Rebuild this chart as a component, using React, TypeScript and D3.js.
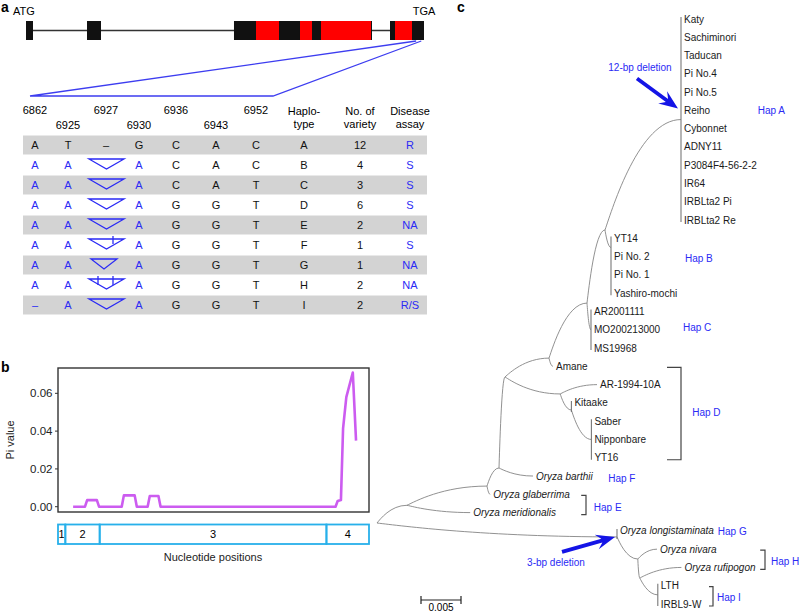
import React from "react";
import * as d3 from "d3";

const FONT = "'Liberation Sans', Arial, Helvetica, sans-serif";
const BLUE = "#2a2af5";
const BLUE_ARROW = "#1414e6";

// ---------- Panel a data ----------
const geneLength = 7000;
const exons: [number, number][] = [[0, 123], [1073, 1319], [3658, 6085], [6402, 7000]];
const domainsRed: [number, number][] = [[4045, 4450], [4819, 5030], [5188, 6068], [6490, 6789]];
const zoomRegion: [number, number] = [6862, 6952];

const topPositions = ["6862", "6927", "6936", "6952"];
const bottomPositions = ["6925", "6930", "6943"];
const haplotypes = ["A", "B", "C", "D", "E", "F", "G", "H", "I"];
const varietyCounts = [12, 4, 3, 6, 2, 1, 1, 2, 2];
const diseaseAssay = ["R", "S", "S", "S", "NA", "S", "NA", "NA", "R/S"];
const snp6862 = ["A", "A", "A", "A", "A", "A", "A", "A", "–"];
const snp6925 = ["T", "A", "A", "A", "A", "A", "A", "A", "A"];
const del6927 = ["none", "full", "full", "full", "full", "one", "short", "two", "full"];
const snp6930 = ["G", "A", "A", "A", "A", "A", "A", "A", "A"];
const snp6936 = ["C", "C", "C", "G", "G", "G", "G", "G", "G"];
const snp6943 = ["A", "A", "A", "G", "G", "G", "G", "G", "G"];
const snp6952 = ["C", "C", "T", "T", "T", "T", "T", "T", "T"];

// ---------- Panel b data ----------
const piPositions = [350, 625, 675, 900, 950, 1475, 1525, 1775, 1825, 2075, 2125, 2325, 2375, 6425, 6475, 6550, 6600, 6675, 6825, 6900];
const piValues = [0, 0, 0.0035, 0.0035, 0, 0, 0.006, 0.006, 0, 0, 0.0057, 0.0057, 0, 0, 0.003, 0.0035, 0.0415, 0.058, 0.071, 0.035];
const piTicks = [0, 0.02, 0.04, 0.06];
const exonSegments: [number, number][] = [[0, 170], [170, 965], [965, 6215], [6215, 7200]];
const exonSegmentLabels = ["1", "2", "3", "4"];

// ---------- Panel c data ----------
const hapALeaves = ["Katy", "Sachiminori", "Taducan", "Pi No.4", "Pi No.5", "Reiho", "Cybonnet", "ADNY11", "P3084F4-56-2-2", "IR64", "IRBLta2 Pi", "IRBLta2 Re"];
const hapBLeaves = ["YT14", "Pi No. 2", "Pi No. 1", "Yashiro-mochi"];
const hapCLeaves = ["AR2001111", "MO200213000", "MS19968"];
const hapDSubLeaves = ["Saber", "Nipponbare", "YT16"];
const hapILeaves = ["LTH", "IRBL9-W"];

type TNode = { name?: string; len: number; row?: number; italic?: boolean; children?: TNode[] };
const L = (name: string, len = 0, italic = false): TNode => ({ name, len, italic });
const N = (row: number, len: number, children: TNode[]): TNode => ({ row, len, children });
const leaf0 = (n: string) => L(n, 0);

const tree: TNode = N(27.57, 0, [
  N(26.6, 0.00375, [
    N(25.55, 0.01, [
      N(24.56, 0.0015, [
        N(19.58, 0.00075, [
          N(18.55, 0.0055, [
            N(15.54, 0.00475, [
              N(11.54, 0.00225, [
                N(5.5, 0.0095, hapALeaves.map(leaf0)),
                N(12.5, 0.00075, hapBLeaves.map(leaf0)),
              ]),
              N(17, 0.0005, hapCLeaves.map(leaf0)),
            ]),
            L("Amane", 0.0005),
          ]),
          N(20.51, 0.0069, [
            L("AR-1994-10A", 0.0046),
            N(21.39, 0.0014, [L("Kitaake", 0), N(23, 0.0025, hapDSubLeaves.map(leaf0))]),
          ]),
        ]),
        L("Oryza barthii", 0.00425, true),
      ]),
      L("Oryza glaberrima", 0.0004, true),
    ]),
    L("Oryza meridionalis", 0.0079, true),
  ]),
  N(28.33, 0.03, [
    L("Oryza longistaminata", 0, true),
    N(29.54, 0.0026, [
      L("Oryza nivara", 0.0024, true),
      N(30.58, 0.00025, [L("Oryza rufipogon", 0.0052, true), N(31.5, 0.00225, hapILeaves.map(leaf0))]),
    ]),
  ]),
]);

const hapLabels = [
  { label: "Hap A", dist: 0.0476, row: 5 },
  { label: "Hap B", dist: 0.0385, row: 13.1 },
  { label: "Hap C", dist: 0.03825, row: 16.9 },
  { label: "Hap D", dist: 0.0394, row: 21.55 },
  { label: "Hap F", dist: 0.0289, row: 25.16 },
  { label: "Hap E", dist: 0.0271, row: 26.7 },
  { label: "Hap G", dist: 0.0426, row: 28.06 },
  { label: "Hap H", dist: 0.04925, row: 29.7 },
  { label: "Hap I", dist: 0.0425, row: 31.67 },
];
const hapBrackets = [
  { dist: 0.038, tick: 0.00175, from: 19, to: 24 },
  { dist: 0.026125, tick: 0.0006, from: 26, to: 27 },
  { dist: 0.0485, tick: 0.0006, from: 29, to: 30 },
  { dist: 0.042, tick: 0.0005, from: 31, to: 32 },
];

// ---------- helpers ----------
function arrowPath(x1: number, y1: number, x2: number, y2: number, hl = 19, hw = 7.5, sw = 1.9) {
  const dx = x2 - x1, dy = y2 - y1, len = Math.hypot(dx, dy);
  const ux = dx / len, uy = dy / len, nx = -uy, ny = ux;
  const bx = x2 - ux * hl, by = y2 - uy * hl;
  const kx = x2 - ux * hl * 0.72, ky = y2 - uy * hl * 0.72;
  const pts = [
    [x1 + nx * sw, y1 + ny * sw], [kx + nx * sw, ky + ny * sw], [bx + nx * hw, by + ny * hw], [x2, y2],
    [bx - nx * hw, by - ny * hw], [kx - nx * sw, ky - ny * sw], [x1 - nx * sw, y1 - ny * sw],
  ];
  return "M" + pts.map((p) => p[0].toFixed(2) + "," + p[1].toFixed(2)).join("L") + "Z";
}
function edgePath(px: number, py: number, cx: number, cy: number) {
  const dx = cx - px, dy = cy - py;
  return `M${px},${py}C${px + 0.1 * dx},${py + 0.2 * dy} ${px + 0.45 * dx},${cy} ${cx},${cy}`;
}

function PanelA() {
  const gx = d3.scaleLinear().domain([0, geneLength]).range([26, 424]);
  const colX = d3.scaleOrdinal<string, number>()
    .domain(["6862", "6925", "6927", "6930", "6936", "6943", "6952", "hap", "num", "assay"])
    .range([35, 68, 106, 139, 176, 216, 256, 304, 360, 410]);
  const rowY = d3.scalePoint<string>().domain(haplotypes).range([145, 305]);
  const fs = 11;
  const cell = (x: number, y: number, t: string, color: string, key: string) => (
    <text key={key} x={x} y={y} dy="0.36em" textAnchor="middle" fontSize={fs} fill={color}>{t}</text>
  );
  return (
    <g fontFamily={FONT}>
      <text x={1} y={12} fontSize={14} fontWeight="bold">a</text>
      <text x={gx(0) - 2} y={15} fontSize={11} textAnchor="middle">ATG</text>
      <text x={gx(geneLength)} y={15} fontSize={11} textAnchor="middle">TGA</text>
      <line x1={gx(0)} x2={gx(geneLength)} y1={30.5} y2={30.5} stroke="#333" strokeWidth={1.6} />
      {exons.map((e, i) => (
        <rect key={"ex" + i} x={gx(e[0])} y={21} width={gx(e[1]) - gx(e[0])} height={19} fill="#111" />
      ))}
      {domainsRed.map((e, i) => (
        <rect key={"rd" + i} x={gx(e[0])} y={21} width={gx(e[1]) - gx(e[0])} height={19} fill="#ff0000" />
      ))}
      <path d={`M${gx(zoomRegion[0])},41 L30,96 L273,96 L${gx(zoomRegion[1])},41`} fill="none" stroke="#3d3df0" strokeWidth={1.3} />
      {topPositions.map((p) => (
        <text key={p} x={colX(p)} y={114} fontSize={fs} textAnchor="middle">{p}</text>
      ))}
      {bottomPositions.map((p) => (
        <text key={p} x={colX(p)} y={129} fontSize={fs} textAnchor="middle">{p}</text>
      ))}
      {[["hap", "Haplo-", "type"], ["num", "No. of", "variety"], ["assay", "Disease", "assay"]].map((h) => (
        <g key={h[0]}>
          <text x={colX(h[0])} y={115} fontSize={fs} textAnchor="middle">{h[1]}</text>
          <text x={colX(h[0])} y={128} fontSize={fs} textAnchor="middle">{h[2]}</text>
        </g>
      ))}
      {haplotypes.map((h, i) => {
        const y = rowY(h)!;
        const blueIf = i > 0 ? BLUE : "#111";
        const dx = colX("6927");
        const d = del6927[i];
        let tri = null;
        if (d !== "none") {
          const w0 = d === "short" ? dx - 15 : dx - 17;
          const w1 = d === "short" ? dx + 11 : dx + 18;
          const tip = d === "short" ? dx - 2 : dx + 0.5;
          tri = (
            <g stroke={BLUE} strokeWidth={1.3} fill="none">
              <path d={`M${w0},${y - 6} L${w1},${y - 6} L${tip},${y + 4} Z`} strokeLinejoin="miter" />
              {d === "one" && <line x1={dx + 7} x2={dx + 7} y1={y - 9} y2={y - 1} />}
              {d === "two" && (
                <>
                  <line x1={dx - 8} x2={dx - 8} y1={y - 9} y2={y} />
                  <line x1={dx + 7} x2={dx + 7} y1={y - 9} y2={y} />
                </>
              )}
            </g>
          );
        }
        return (
          <g key={h}>
            {i % 2 === 0 && <rect x={23} y={y - 9.5} width={404} height={19} fill="#d3d3d3" />}
            {cell(colX("6862"), y, snp6862[i], blueIf, "a")}
            {cell(colX("6925"), y, snp6925[i], blueIf, "b")}
            {d === "none" ? cell(dx, y, "–", "#111", "c") : tri}
            {cell(colX("6930"), y, snp6930[i], blueIf, "d")}
            {cell(colX("6936"), y, snp6936[i], "#111", "e")}
            {cell(colX("6943"), y, snp6943[i], "#111", "f")}
            {cell(colX("6952"), y, snp6952[i], "#111", "g")}
            {cell(colX("hap"), y, h, "#111", "h")}
            {cell(colX("num"), y, String(varietyCounts[i]), "#111", "i")}
            {cell(colX("assay"), y, diseaseAssay[i], BLUE, "j")}
          </g>
        );
      })}
    </g>
  );
}

function PanelB() {
  const x = d3.scaleLinear().domain([0, 7200]).range([58, 369]);
  const y = d3.scaleLinear().domain([-0.0028, 0.0734]).range([512, 368]);
  const line = d3.line<number>().x((_, i) => x(piPositions[i])).y((v) => y(v));
  return (
    <g fontFamily={FONT}>
      <text x={1} y={372} fontSize={14} fontWeight="bold">b</text>
      <path d={line(piValues) || ""} fill="none" stroke="#cc5cf0" strokeWidth={2.6} strokeLinejoin="round" />
      <rect x={58} y={368} width={311} height={144} fill="none" stroke="#333" strokeWidth={1.4} />
      {piTicks.map((t) => (
        <g key={t}>
          <line x1={55} x2={58} y1={y(t)} y2={y(t)} stroke="#333" strokeWidth={1} />
          <text x={52.5} y={y(t)} dy="0.35em" textAnchor="end" fontSize={11.5} fill="#222">{d3.format(".2f")(t)}</text>
        </g>
      ))}
      <text transform={`translate(14,440) rotate(-90)`} textAnchor="middle" fontSize={11} fill="#222">Pi value</text>
      {exonSegments.map((s, i) => (
        <g key={i}>
          <rect x={x(s[0])} y={524.5} width={x(s[1]) - x(s[0])} height={19.5} fill="none" stroke="#27b0ea" strokeWidth={1.8} />
          <text x={(x(s[0]) + x(s[1])) / 2} y={534.5} dy="0.36em" textAnchor="middle" fontSize={11}>{exonSegmentLabels[i]}</text>
        </g>
      ))}
      <text x={213} y={561} textAnchor="middle" fontSize={11} fill="#222">Nucleotide positions</text>
    </g>
  );
}

function PanelC() {
  const xT = d3.scaleLinear().domain([0, 0.005]).range([377, 417]);
  const yT = d3.scaleLinear().domain([0, 32]).range([19, 604]);
  const root = d3.hierarchy<TNode>(tree, (d) => d.children);
  const dist = new Map<any, number>();
  root.each((n: any) => dist.set(n, (n.parent ? dist.get(n.parent)! : 0) + (n.parent ? n.data.len : 0)));
  const leafRow = new Map<any, number>();
  root.leaves().forEach((l, i) => leafRow.set(l, i));
  const pos = (n: any) => ({ x: xT(dist.get(n)!), y: yT(n.children ? n.data.row : leafRow.get(n)) });

  const edges: any[] = [];
  const bars: any[] = [];
  const labels: any[] = [];
  root.each((n: any) => {
    const p = pos(n);
    if (n.parent && n.data.len > 0) {
      const pp = pos(n.parent);
      edges.push(<path key={"e" + edges.length} d={edgePath(pp.x, pp.y, p.x, p.y)} fill="none" stroke="#858585" strokeWidth={0.9} />);
    }
    if (n.children) {
      const zs = n.children.filter((c: any) => !c.children && c.data.len === 0).map((c: any) => pos(c).y);
      if (zs.length) {
        const lo = Math.min(p.y, ...zs) - 2, hi = Math.max(p.y, ...zs) + 2;
        bars.push(<line key={"b" + bars.length} x1={p.x} x2={p.x} y1={lo} y2={hi} stroke="#777" strokeWidth={1.1} />);
      }
    } else {
      labels.push(
        <text key={"l" + labels.length} x={p.x + 3} y={p.y} dy="0.35em" fontSize={10} fontStyle={n.data.italic ? "italic" : "normal"} fill="#1a1a1a">{n.data.name}</text>
      );
    }
  });
  const findNode = (pred: (n: any) => boolean) => root.descendants().find(pred)!;
  const hapA = pos(findNode((n: any) => n.children && n.children[0].data.name === "Katy"));
  const hapG = pos(findNode((n: any) => n.children && n.children[0].data.name === "Oryza longistaminata"));
  const barX0 = 421;
  const barLen = xT(0.005) - xT(0);
  return (
    <g fontFamily={FONT}>
      <text x={457} y={12} fontSize={14} fontWeight="bold">c</text>
      {edges}
      {bars}
      {labels}
      {hapLabels.map((h) => (
        <text key={h.label} x={xT(h.dist)} y={yT(h.row)} dy="0.35em" fontSize={10} fill={BLUE}>{h.label}</text>
      ))}
      {hapBrackets.map((b, i) => {
        const x = xT(b.dist), x0 = xT(b.dist - b.tick);
        const y0 = yT(b.from) + 1, y1 = yT(b.to) + 2;
        return <path key={i} d={`M${x0},${y0}H${x}V${y1}H${x0}`} fill="none" stroke="#444" strokeWidth={1.2} />;
      })}
      <text x={640} y={67} dy="0.35em" textAnchor="middle" fontSize={10} fill={BLUE}>12-bp deletion</text>
      <path d={arrowPath(hapA.x - 44, hapA.y - 41, hapA.x - 3, hapA.y - 11)} fill={BLUE_ARROW} />
      <text x={556} y={562} dy="0.35em" textAnchor="middle" fontSize={10} fill={BLUE}>3-bp deletion</text>
      <path d={arrowPath(hapG.x - 55, hapG.y + 15, hapG.x - 2, hapG.y)} fill={BLUE_ARROW} />
      <g stroke="#222" strokeWidth={1.2}>
        <line x1={barX0} x2={barX0 + barLen} y1={600} y2={600} />
        <line x1={barX0} x2={barX0} y1={596} y2={604} />
        <line x1={barX0 + barLen} x2={barX0 + barLen} y1={596} y2={604} />
      </g>
      <text x={barX0 + barLen / 2} y={611} textAnchor="middle" fontSize={10}>0.005</text>
    </g>
  );
}

export default function App() {
  return (
    <svg width={799} height={612} style={{ position: "absolute", left: 0, top: 0, background: "#fff" }}>
      <rect width={799} height={612} fill="#fff" />
      <PanelA />
      <PanelB />
      <PanelC />
    </svg>
  );
}
